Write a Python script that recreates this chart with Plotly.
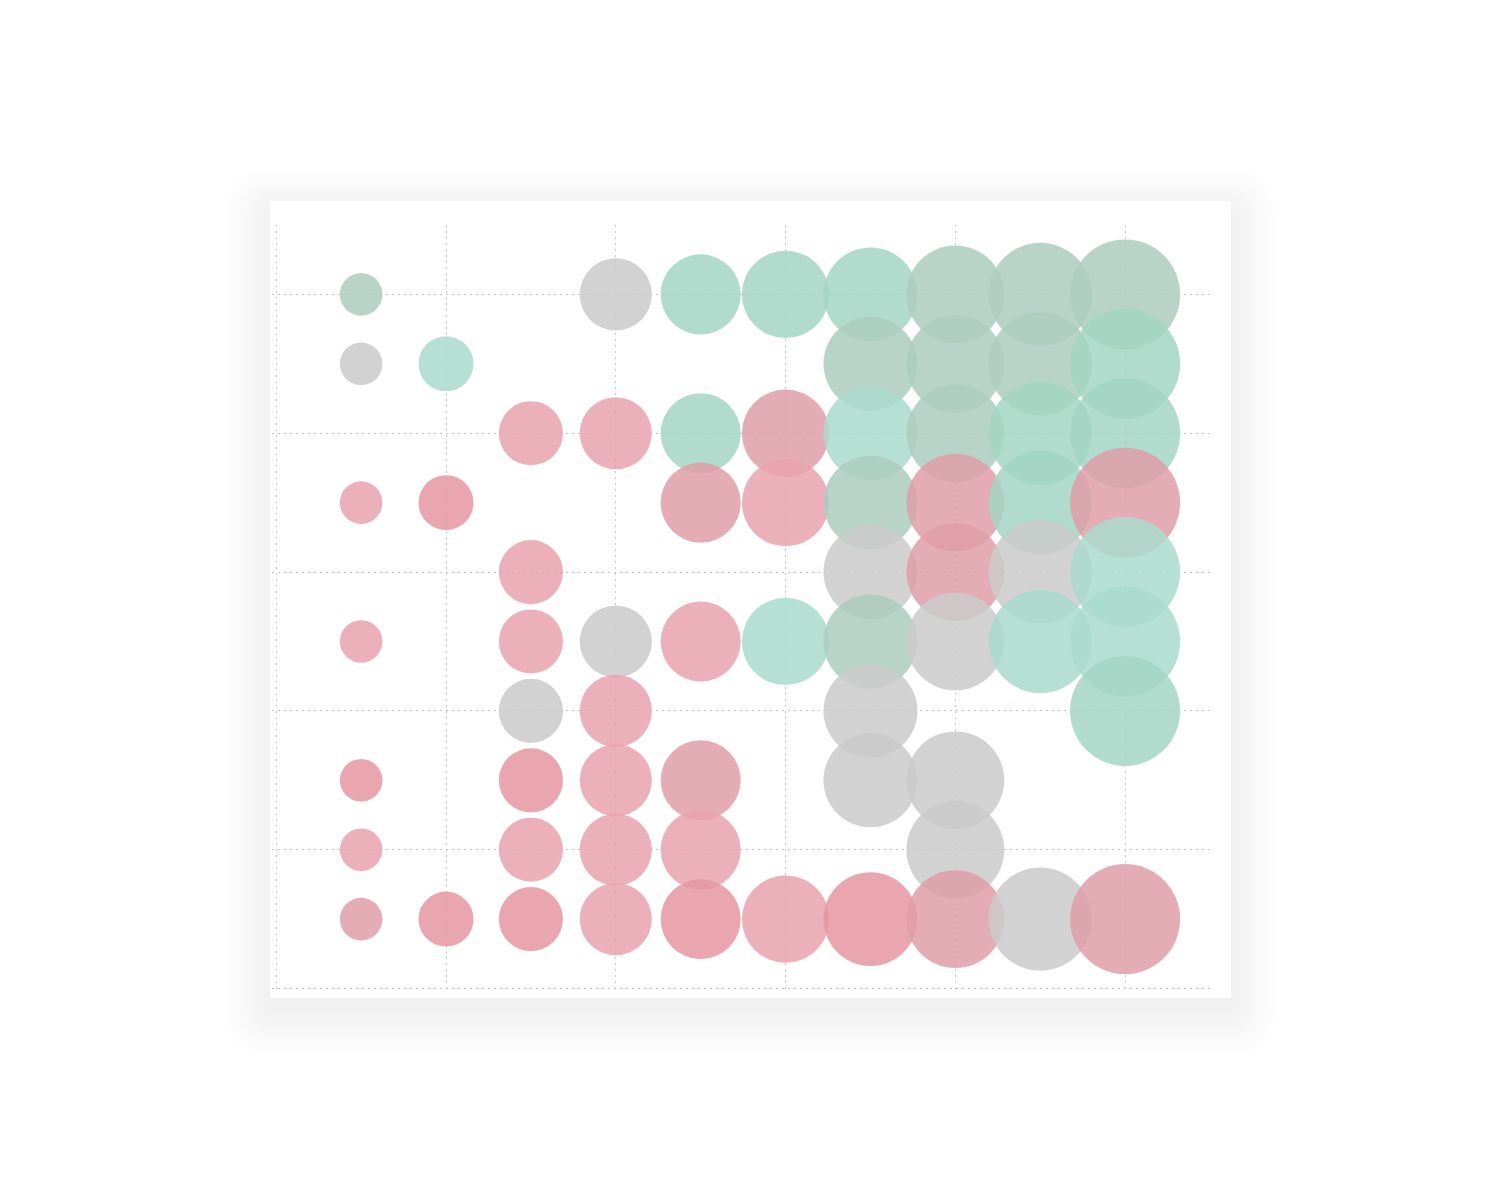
import plotly.graph_objects as go

# bubble grid, listed from the top row down, left to right
row_10 = [1, 4, 5, 6, 7, 8, 9, 10]
row_9 = [1, 2, 7, 8, 9, 10]
row_8 = [3, 4, 5, 6, 7, 8, 9, 10]
row_7 = [1, 2, 5, 6, 7, 8, 9, 10]
row_6 = [3, 7, 8, 9, 10]
row_5 = [1, 3, 4, 5, 6, 7, 8, 9, 10]
row_4 = [3, 4, 7, 10]
row_3 = [1, 3, 4, 5, 7, 8]
row_2 = [1, 3, 4, 5, 8]
row_1 = [1, 2, 3, 4, 5, 6, 7, 8, 9, 10]

tone_10 = ["gs", "n", "g", "g", "g", "gs", "gs", "gs"]
tone_9 = ["n", "gl", "gs", "gs", "gs", "g"]
tone_8 = ["pl", "pl", "g", "pm", "gl", "gs", "g", "g"]
tone_7 = ["pl", "pd", "pm", "pl", "gs", "pm", "g", "pm"]
tone_6 = ["pl", "n", "pm", "n", "gl"]
tone_5 = ["pl", "pl", "n", "pl", "gl", "gs", "n", "gl", "gl"]
tone_4 = ["n", "pl", "n", "g"]
tone_3 = ["pd", "pd", "pl", "pm", "n", "n"]
tone_2 = ["pl", "pl", "pl", "pl", "n"]
tone_1 = ["pm", "pd", "pd", "pl", "pd", "pl", "pd", "pm", "n", "pm"]

# bubble weight by column (area-scaled)
col_weight = [1.5, 2.5, 3.4, 4.3, 5.3, 6.3, 7.3, 7.9, 8.8, 10.0]

rows = [row_10, row_9, row_8, row_7, row_6, row_5, row_4, row_3, row_2, row_1]
tones = [tone_10, tone_9, tone_8, tone_7, tone_6, tone_5, tone_4, tone_3, tone_2, tone_1]
row_y = [10, 9, 8, 7, 6, 5, 4, 3, 2, 1]

palette = {
    "pl": "rgba(233,162,174,0.85)",
    "pd": "rgba(229,150,161,0.85)",
    "pm": "rgba(223,158,168,0.85)",
    "g": "rgba(163,213,195,0.85)",
    "gl": "rgba(170,219,204,0.85)",
    "gs": "rgba(172,204,190,0.85)",
    "n": "rgba(202,202,202,0.85)",
}

xs, ys, sizes, colors = [], [], [], []
for y, cols, tn in zip(row_y, rows, tones):
    for c, t in zip(cols, tn):
        xs.append(c)
        ys.append(y)
        sizes.append(col_weight[c - 1])
        colors.append(palette[t])

W, H = 1484, 1184
L, R, T, B = 264, 282, 217, 200
PW, PH = W - L - R, H - T - B


def px_x(v):
    return (v - L) / PW


def px_y(v):
    return (H - B - v) / PH


def rounded_rect(x0, y0, x1, y1, r):
    pts = [
        ("M", x0 + r, y0), ("L", x1 - r, y0), ("Q", x1, y0, x1, y0 + r),
        ("L", x1, y1 - r), ("Q", x1, y1, x1 - r, y1), ("L", x0 + r, y1),
        ("Q", x0, y1, x0, y1 - r), ("L", x0, y0 + r), ("Q", x0, y0, x0 + r, y0),
    ]
    out = []
    for p in pts:
        cmd = p[0]
        coords = p[1:]
        s = []
        for i in range(0, len(coords), 2):
            s.append(f"{px_x(coords[i]):.5f},{px_y(coords[i + 1]):.5f}")
        out.append(cmd + " ".join(s))
    return " ".join(out) + " Z"


# card with soft shadow (figure pixel coords)
cx0, cy0, cx1, cy1 = 262, 193, 1223, 990
shapes = []
for i in range(14, 0, -1):
    g = i * 3.3
    shapes.append(dict(
        type="path", xref="paper", yref="paper", layer="below",
        path=rounded_rect(cx0 - g, cy0 - g + 12, cx1 + g, cy1 + g + 12, g + 4),
        fillcolor="rgba(0,0,0,0.0045)", line=dict(width=0),
    ))
shapes.append(dict(
    type="rect", xref="paper", yref="paper", layer="below",
    x0=px_x(cx0), x1=px_x(cx1), y0=px_y(cy1), y1=px_y(cy0),
    fillcolor="white", line=dict(width=0),
))

fig = go.Figure(go.Scatter(
    x=xs, y=ys, mode="markers",
    marker=dict(
        size=sizes, sizemode="area", sizeref=2 * 10.0 / (110 ** 2),
        color=colors, opacity=1, line=dict(width=0),
    ),
    hoverinfo="skip",
))

axis = dict(
    showgrid=True, gridcolor="#c4c4c4", gridwidth=1, griddash="2px,4px",
    tick0=0, dtick=2, showticklabels=False, ticks="", zeroline=False,
    showline=False,
)
fig.update_xaxes(range=[-0.05, 11], **axis)
fig.update_yaxes(range=[-0.05, 11], **axis)

fig.update_layout(
    width=W, height=H, margin=dict(l=L, r=R, t=T, b=B, autoexpand=False),
    paper_bgcolor="white", plot_bgcolor="rgba(0,0,0,0)",
    showlegend=False, shapes=shapes,
)

fig.write_html("out.html")
